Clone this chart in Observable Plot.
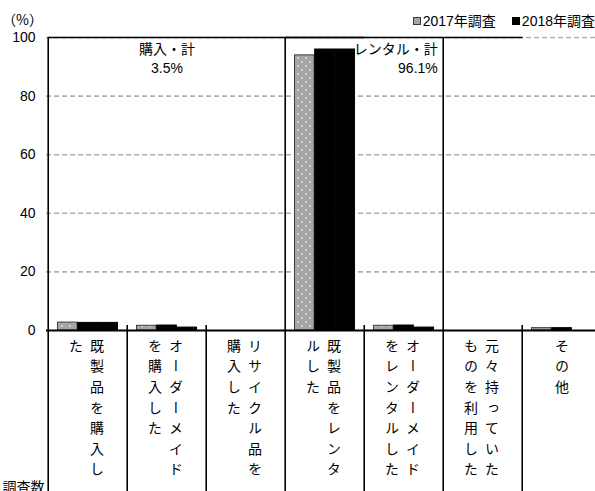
<!DOCTYPE html>
<html><head><meta charset="utf-8">
<script src="https://cdn.jsdelivr.net/npm/d3@7"></script>
<script src="https://cdn.jsdelivr.net/npm/@observablehq/plot@0.6"></script>
<style>
html,body{margin:0;padding:0;background:#fff;overflow:hidden;}
#wrap{position:relative;width:595px;height:491px;font-family:"Liberation Sans","Noto Sans CJK JP",sans-serif;color:#000;}
#unit{position:absolute;left:2px;top:11px;font-size:14px;line-height:16px;font-family:"Noto Sans CJK JP",sans-serif;}
#legend{position:absolute;right:0;top:13px;font-size:14px;line-height:16px;display:flex;gap:16px;align-items:center;white-space:nowrap;}
#legend .item{display:flex;align-items:center;}
#legend .sw{display:inline-block;width:8px;height:8px;margin-right:2px;box-sizing:border-box;}
</style>
</head><body>
<div id="wrap">
  <div id="unit"></div>
  <div id="legend"></div>
</div>
<script>
// ---- data ----
const categories = [
  "既製品を購入した",
  "オーダーメイドを購入した",
  "リサイクル品を購入した",
  "既製品をレンタルした",
  "オーダーメイドをレンタルした",
  "元々持っていたものを利用した",
  "その他"
];
const seriesNames = ["2017年調査", "2018年調査"];
const values2017 = [2.7, 1.6, 0, 93.9, 1.6, 0, 0.8];
const values2018 = [2.6, 1.7, 0, 95.9, 1.7, 0, 0.8];
const values3rd  = [2.6, 1.0, 0, 95.9, 1.0, 0, 0];   // unlabeled third series (legend cut off)
const groupNames = ["購入・計", "レンタル・計"];
const groupTotals = [3.5, 96.1];
const groupOf = [0, 0, 0, 1, 1, 2, 2];
const yTicks = [0, 20, 40, 60, 80, 100];
const unitLabel = "（%）";
const bottomRowLabel = "調査数";

document.getElementById("unit").textContent = unitLabel;

// ---- layout ----
const W = 595, H = 491;
const mTop = 37, mBottom = 161, mLeft = 46;
const xEnd = 603;
const bw = (xEnd - mLeft) / categories.length;
const barW = bw * 0.254;
const pad = (bw - 3 * barW) / 2;
const plotH = H - mTop - mBottom;

const rows = (vals) => categories.map((c, i) => ({cat: c, v: vals[i]}));
const barMark = (vals, k, opts) => Plot.barY(rows(vals), {
  x: "cat", y: "v",
  insetLeft: pad + k * barW,
  insetRight: bw - pad - (k + 1) * barW,
  ...opts
});

const majors = categories.filter((c, i) => i === 0 || groupOf[i] !== groupOf[i - 1]);
const minors = categories.filter((c, i) => i > 0 && groupOf[i] === groupOf[i - 1]);
const spans = groupNames.map((g, gi) => {
  const members = categories.filter((c, i) => groupOf[i] === gi);
  return {from: members[0], to: members[members.length - 1], mid: members[Math.floor(members.length / 2)], label: `${g}\n${groupTotals[gi].toFixed(1)}%`};
});

const cols = categories.flatMap((c, i) => {
  const chars = Array.from(c);
  const chunks = [];
  for (let k = 0; k < chars.length; k += 7) chunks.push(chars.slice(k, k + 7).join(""));
  return chunks.map((t, k) => ({cat: c, text: t, k, n: chunks.length}));
});

const labelOpts = {x: "cat", text: "text", frameAnchor: "bottom", textAnchor: "start", lineAnchor: "top", dy: -2,
  fontSize: 14, fontFamily: "Noto Sans CJK JP", fill: "#000", ariaDescription: "catlabel"};

const chart = Plot.plot({
  width: W, height: H,
  marginTop: mTop, marginBottom: mBottom, marginLeft: mLeft, marginRight: 0,
  style: {fontFamily: "'Liberation Sans','Noto Sans CJK JP',sans-serif", fontSize: "14px", background: "white", color: "#000"},
  x: {type: "band", domain: categories, range: [mLeft, xEnd], padding: 0, axis: null},
  y: {domain: [0, 100], ticks: yTicks, tickSize: 0, tickPadding: 11, label: null},
  marks: [
    Plot.ruleY(yTicks.filter(t => t > 0), {stroke: "#b0b0b0", strokeWidth: 1.6, strokeDasharray: "5,3"}),
    barMark(values2017, 0, {fill: "url(#dots)", stroke: "#3a3a3a", strokeWidth: 1}),
    barMark(values2018, 1, {fill: "#000", stroke: "#000", strokeWidth: 1}),
    barMark(values3rd, 2, {fill: "#000", stroke: "#000", strokeWidth: 1}),
    Plot.ruleY([0], {stroke: "#000", strokeWidth: 2}),
    Plot.ruleX(majors, {x: d => d, dx: -bw / 2, insetBottom: -mBottom, stroke: "#000", strokeWidth: 1.6}),
    Plot.ruleX(minors, {x: d => d, dx: -bw / 2, insetTop: plotH - 5, insetBottom: -mBottom, stroke: "#000", strokeWidth: 1.6}),
    Plot.ruleY(spans, {y: () => 100, x1: "from", x2: "to", insetLeft: 0, insetRight: -bw, stroke: "#000", strokeWidth: 1.6}),
    Plot.text([spans[0]], {x: "mid", text: "label", frameAnchor: "top", lineAnchor: "top", dy: 3, lineHeight: 1.35, fontSize: 14, fill: "#000"}),
    Plot.text([spans[1]], {x: "to", text: "label", frameAnchor: "top", lineAnchor: "top", textAnchor: "end", dx: bw / 2 - 6, dy: 3, lineHeight: 1.35, fontSize: 14, fill: "#000"}),
    Plot.text(cols.filter(d => d.n === 1), {...labelOpts}),
    Plot.text(cols.filter(d => d.n === 2 && d.k === 0), {...labelOpts, dx: 9}),
    Plot.text(cols.filter(d => d.n === 2 && d.k === 1), {...labelOpts, dx: -12}),
    Plot.text([bottomRowLabel], {text: d => d, frameAnchor: "bottom-left", textAnchor: "end", dx: -2, dy: mBottom, fontSize: 14, fontFamily: "Noto Sans CJK JP", fill: "#000"})
  ]
});

const svg = d3.select(chart);
const defs = svg.insert("defs", ":first-child");
const pat = defs.append("pattern").attr("id", "dots").attr("patternUnits", "userSpaceOnUse").attr("width", 8).attr("height", 8);
pat.append("rect").attr("width", 8).attr("height", 8).attr("fill", "#a6a6a6");
pat.append("circle").attr("cx", 2).attr("cy", 2).attr("r", 0.8).attr("fill", "#fff");
pat.append("circle").attr("cx", 6).attr("cy", 6).attr("r", 0.8).attr("fill", "#fff");
svg.selectAll('g[aria-description="catlabel"] text')
  .style("writing-mode", "vertical-rl")
  .style("text-orientation", "mixed")
  .style("font-feature-settings", '"vert" 1')
  .style("letter-spacing", "6.6px");
svg.style("overflow", "hidden");

document.getElementById("wrap").appendChild(chart);

// legend
const legend = d3.select("#legend");
const swatchStyles = [{bg: "#a6a6a6", border: "1px solid #3a3a3a"}, {bg: "#000", border: "1px solid #000"}];
seriesNames.forEach((s, i) => {
  const it = legend.append("div").attr("class", "item");
  it.append("span").attr("class", "sw").style("background", swatchStyles[i].bg).style("border", swatchStyles[i].border);
  it.append("span").text(s);
});
</script>
</body></html>
